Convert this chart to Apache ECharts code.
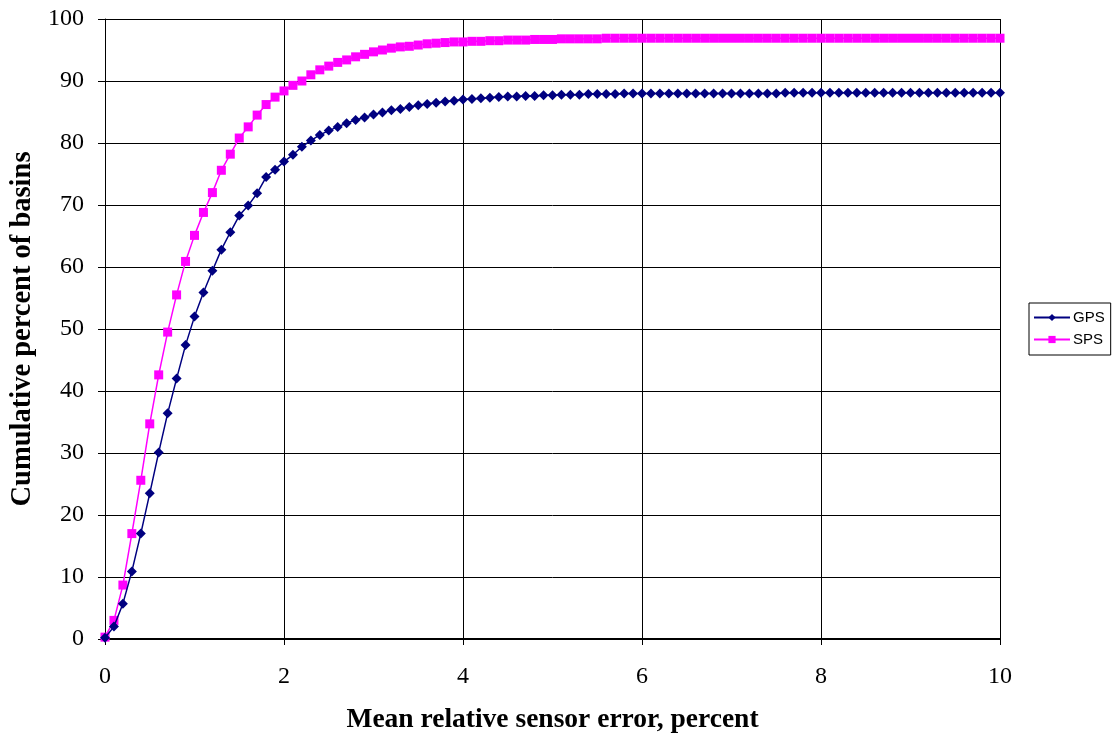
<!DOCTYPE html>
<html>
<head>
<meta charset="utf-8">
<script src="https://cdn.jsdelivr.net/npm/echarts@6/dist/echarts.min.js"></script>
<style>html,body{margin:0;padding:0;background:#fff}#c{width:1120px;height:740px}</style>
</head>
<body>
<div id="c"></div>
<script>
const xValues = [0,0.1,0.2,0.3,0.4,0.5,0.6,0.7,0.8,0.9,1,1.1,1.2,1.3,1.4,1.5,1.6,1.7,1.8,1.9,2,2.1,2.2,2.3,2.4,2.5,2.6,2.7,2.8,2.9,3,3.1,3.2,3.3,3.4,3.5,3.6,3.7,3.8,3.9,4,4.1,4.2,4.3,4.4,4.5,4.6,4.7,4.8,4.9,5,5.1,5.2,5.3,5.4,5.5,5.6,5.7,5.8,5.9,6,6.1,6.2,6.3,6.4,6.5,6.6,6.7,6.8,6.9,7,7.1,7.2,7.3,7.4,7.5,7.6,7.7,7.8,7.9,8,8.1,8.2,8.3,8.4,8.5,8.6,8.7,8.8,8.9,9,9.1,9.2,9.3,9.4,9.5,9.6,9.7,9.8,9.9,10];
const gps = [0.2,2.0,5.7,10.9,17.0,23.5,30.1,36.4,42.0,47.4,52.0,55.9,59.4,62.8,65.6,68.3,69.9,71.9,74.5,75.7,77.0,78.1,79.4,80.4,81.3,82.0,82.6,83.2,83.7,84.1,84.6,84.9,85.3,85.5,85.8,86.1,86.3,86.5,86.7,86.8,87.0,87.1,87.2,87.3,87.4,87.5,87.5,87.6,87.6,87.7,87.7,87.8,87.8,87.8,87.9,87.9,87.9,87.9,88.0,88.0,88.0,88.0,88.0,88.0,88.0,88.0,88.0,88.0,88.0,88.0,88.0,88.0,88.0,88.0,88.0,88.0,88.1,88.1,88.1,88.1,88.1,88.1,88.1,88.1,88.1,88.1,88.1,88.1,88.1,88.1,88.1,88.1,88.1,88.1,88.1,88.1,88.1,88.1,88.1,88.1,88.1];
const sps = [0.3,3.0,8.7,17.0,25.6,34.7,42.6,49.5,55.5,60.9,65.1,68.8,72.0,75.6,78.2,80.8,82.6,84.5,86.2,87.4,88.4,89.3,90.0,91.0,91.8,92.4,93.0,93.4,93.9,94.3,94.7,95.0,95.3,95.5,95.6,95.8,96.0,96.1,96.2,96.3,96.3,96.4,96.4,96.5,96.5,96.6,96.6,96.6,96.7,96.7,96.7,96.8,96.8,96.8,96.8,96.8,96.9,96.9,96.9,96.9,96.9,96.9,96.9,96.9,96.9,96.9,96.9,96.9,96.9,96.9,96.9,96.9,96.9,96.9,96.9,96.9,96.9,96.9,96.9,96.9,96.9,96.9,96.9,96.9,96.9,96.9,96.9,96.9,96.9,96.9,96.9,96.9,96.9,96.9,96.9,96.9,96.9,96.9,96.9,96.9,96.9];
const seriesNames = ['GPS','SPS'];
const xTitle = 'Mean relative sensor error, percent';
const yTitle = 'Cumulative percent of basins';

const serif = '"Liberation Serif","Times New Roman",serif';
const chart = echarts.init(document.getElementById('c'), null, {renderer:'canvas'});
chart.setOption({
  animation:false,
  backgroundColor:'#fff',
  grid:{left:105,right:120,top:19,bottom:101,containLabel:false},
  legend:{
    orient:'vertical', left:1029, top:303,
    data:seriesNames,
    itemWidth:36, itemHeight:9, itemGap:7,
    borderColor:'#000', borderWidth:1, padding:[7,6,8,4],
    textStyle:{fontFamily:'"Liberation Sans",Arial,sans-serif',fontSize:15,color:'#000',padding:[0,0,0,-2]}
  },
  xAxis:{
    type:'value', min:0, max:10, interval:2,
    name:xTitle, nameLocation:'middle', nameGap:67,
    nameTextStyle:{fontFamily:serif,fontSize:27.5,fontWeight:'bold',color:'#000'},
    axisLine:{onZero:false,lineStyle:{color:'#000',width:2}},
    axisTick:{show:true,inside:false,length:6,lineStyle:{color:'#000'}},
    axisLabel:{fontFamily:serif,fontSize:24,color:'#000',margin:26},
    splitLine:{show:true,lineStyle:{color:'#000',width:1}}
  },
  yAxis:{
    type:'value', min:0, max:100, interval:10,
    name:yTitle, nameLocation:'middle', nameGap:67,
    nameTextStyle:{fontFamily:serif,fontSize:28.5,fontWeight:'bold',color:'#000'},
    axisLine:{show:true,lineStyle:{color:'#000',width:1}},
    axisTick:{show:true,inside:false,length:7,lineStyle:{color:'#000'}},
    axisLabel:{fontFamily:serif,fontSize:24,color:'#000',margin:21},
    splitLine:{show:true,lineStyle:{color:'#000',width:1}}
  },
  series:[
    {name:seriesNames[0], type:'line', data:xValues.map((x,i)=>[x,gps[i]]),
     symbol:'diamond', symbolSize:10, showAllSymbol:true,
     itemStyle:{color:'#000080'}, lineStyle:{color:'#000080',width:1.5}, z:3},
    {name:seriesNames[1], type:'line', data:xValues.map((x,i)=>[x,sps[i]]),
     symbol:'rect', symbolSize:9, showAllSymbol:true,
     itemStyle:{color:'#FF00FF'}, lineStyle:{color:'#FF00FF',width:1.5}, z:2}
  ]
});
</script>
</body>
</html>
